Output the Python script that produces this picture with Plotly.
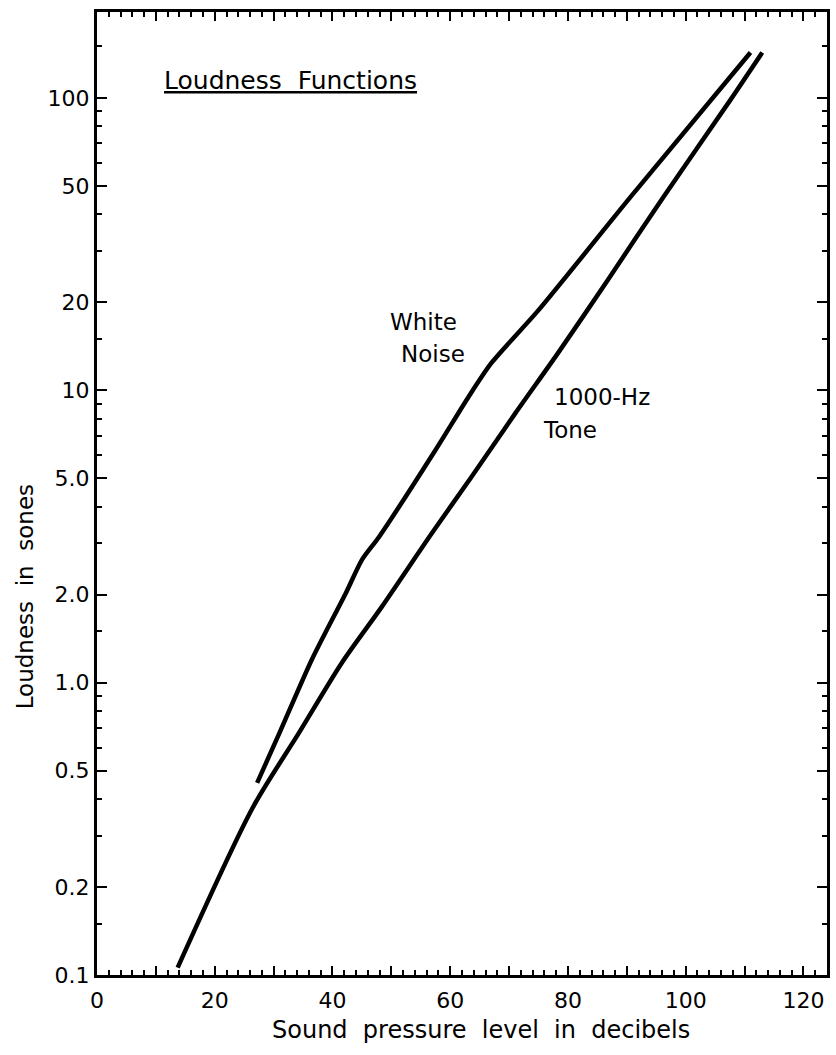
import plotly.graph_objects as go

# ---- data ----
tone_db = [13.7, 26.4, 34.3, 41.6, 48.4, 56.9, 63.6, 71.1, 78.3, 86.8, 96.1, 107.6, 113.0]
tone_sones = [0.106, 0.372, 0.673, 1.17, 1.82, 3.25, 5.05, 8.37, 13.4, 23.9, 45.5, 98.5, 143]

wn_db = [27.2, 31.0, 36.5, 42.3, 45.0, 47.9, 57.5, 63.1, 67.0, 75.0, 90.5, 111.0]
wn_sones = [0.454, 0.673, 1.20, 2.03, 2.63, 3.15, 6.25, 9.49, 12.4, 18.8, 45.5, 143]

x_tickvals = [0, 10, 20, 30, 40, 50, 60, 70, 80, 90, 100, 110, 120]
x_ticktext = ["0", "", "20", "", "40", "", "60", "", "80", "", "100", "", "120"]
y_tickvals = [0.1, 0.2, 0.5, 1, 2, 5, 10, 20, 50, 100]
y_ticktext = ["0.1", "0.2", "0.5", "1.0", "2.0", "5.0", "10", "20", "50", "100"]
y_minor = [0.15, 0.3, 0.4, 0.6, 0.7, 0.8, 0.9, 1.5, 3, 4, 6, 7, 8, 9,
           15, 30, 40, 60, 70, 80, 90, 150]

FONT = "DejaVu Sans"

fig = go.Figure()
fig.add_trace(go.Scatter(x=wn_db, y=wn_sones, mode="lines",
                         line=dict(color="black", width=4.5, shape="spline", smoothing=0.7),
                         name="White Noise", showlegend=False))
fig.add_trace(go.Scatter(x=tone_db, y=tone_sones, mode="lines",
                         line=dict(color="black", width=4.5, shape="spline", smoothing=0.8),
                         name="1000-Hz Tone", showlegend=False))

fig.update_layout(
    width=836, height=1055,
    margin=dict(l=97, r=6, t=12, b=80),
    paper_bgcolor="white", plot_bgcolor="white",
    font=dict(family=FONT, size=21, color="black"),
    showlegend=False,
)
fig.update_xaxes(
    range=[0, 124], tickmode="array", tickvals=x_tickvals, ticktext=x_ticktext,
    ticks="inside", ticklen=9, tickwidth=2, tickcolor="black",
    minor=dict(ticks="inside", dtick=2, ticklen=5, tickwidth=1.5, tickcolor="black"),
    showline=True, linewidth=3, linecolor="black", mirror="allticks",
    showgrid=False, zeroline=False, ticklabelstandoff=4,
    tickfont=dict(family=FONT, size=22),
)
fig.update_yaxes(
    type="log", range=[-1, 2.294], tickmode="array", tickvals=y_tickvals, ticktext=y_ticktext,
    ticks="inside", ticklen=10, tickwidth=2, tickcolor="black",
    minor=dict(ticks="inside", tickmode="array", tickvals=y_minor, ticklen=5,
               tickwidth=2, tickcolor="black"),
    showline=True, linewidth=3, linecolor="black", mirror="allticks",
    showgrid=False, zeroline=False, ticklabelstandoff=0,
    tickfont=dict(family=FONT, size=22),
)

# axis titles
fig.add_annotation(text="Sound  pressure  level  in  decibels", xref="paper", yref="paper",
                   x=(483 - 97) / 733, y=(975 - 1030) / 963, showarrow=False,
                   font=dict(family=FONT, size=24), xanchor="center", yanchor="middle")
fig.add_annotation(text="Loudness  in  sones", xref="paper", yref="paper",
                   x=(25 - 97) / 733, y=(975 - 597) / 963, showarrow=False, textangle=-90,
                   font=dict(family=FONT, size=23), xanchor="center", yanchor="middle")

# chart title (underlined)
fig.add_annotation(text="<u>Loudness  Functions</u>", xref="paper", yref="paper",
                   x=(291 - 97) / 733, y=(975 - 80) / 963, showarrow=False,
                   font=dict(family=FONT, size=25), xanchor="center", yanchor="middle")

# curve labels
fig.add_annotation(text="White", xref="paper", yref="paper",
                   x=(425 - 97) / 733, y=(975 - 322) / 963, showarrow=False,
                   font=dict(family=FONT, size=23), xanchor="center", yanchor="middle")
fig.add_annotation(text="Noise", xref="paper", yref="paper",
                   x=(434 - 97) / 733, y=(975 - 354) / 963, showarrow=False,
                   font=dict(family=FONT, size=23), xanchor="center", yanchor="middle")
fig.add_annotation(text="1000-Hz", xref="paper", yref="paper",
                   x=(604 - 97) / 733, y=(975 - 397) / 963, showarrow=False,
                   font=dict(family=FONT, size=23), xanchor="center", yanchor="middle")
fig.add_annotation(text="Tone", xref="paper", yref="paper",
                   x=(572 - 97) / 733, y=(975 - 430) / 963, showarrow=False,
                   font=dict(family=FONT, size=23), xanchor="center", yanchor="middle")

fig.write_html("out.html")
